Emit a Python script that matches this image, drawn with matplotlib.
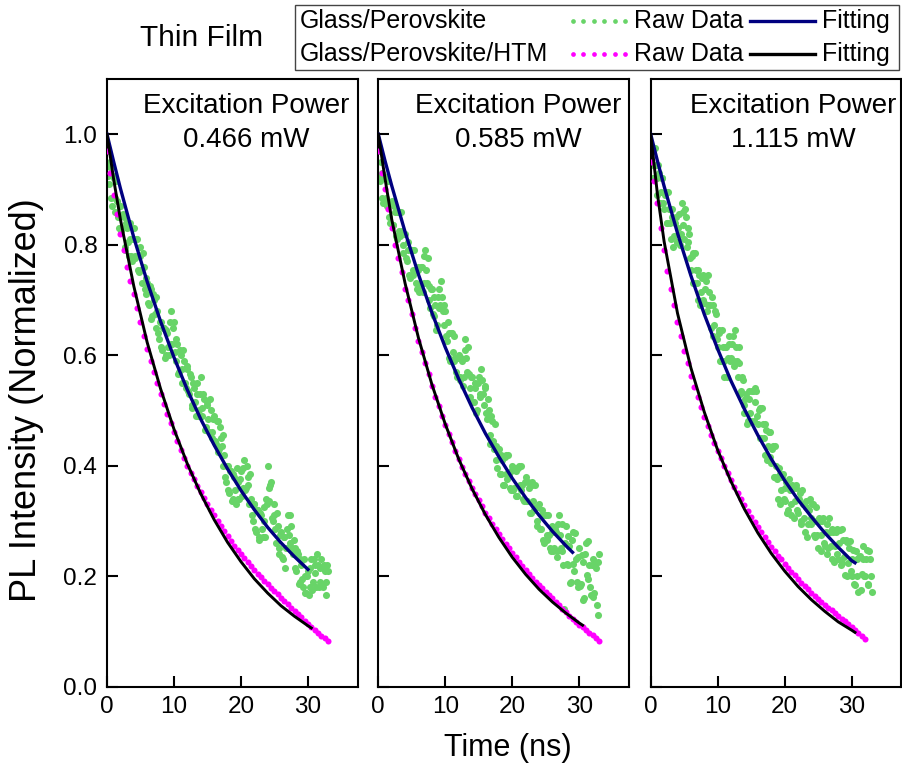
import numpy as np
import matplotlib.pyplot as plt
from matplotlib.lines import Line2D
from matplotlib.patches import Rectangle

plt.rcParams['font.family'] = ['Liberation Sans', 'DejaVu Sans']

powers = ['0.466 mW', '0.585 mW', '1.115 mW']

# raw data, Glass/Perovskite (green): values every 0.25 ns from t = 0 (a)
# and the in-between readings every 0.25 ns from t = 0.125 (b)
green_dt = 0.25
green_1a = [0.97, 0.91, 0.94, 0.87, 0.92, 0.86, 0.88, 0.83,
            0.87, 0.83, 0.85, 0.79, 0.83, 0.78, 0.81, 0.77,
            0.83, 0.78, 0.81, 0.75, 0.78, 0.73, 0.76, 0.71,
            0.73, 0.69, 0.72, 0.67, 0.70, 0.65, 0.68, 0.63,
            0.66, 0.61, 0.65, 0.60, 0.64, 0.60, 0.68, 0.62,
            0.66, 0.59, 0.62, 0.57, 0.60, 0.55, 0.59, 0.54,
            0.58, 0.53, 0.56, 0.51, 0.54, 0.49, 0.53, 0.50,
            0.56, 0.49, 0.52, 0.47, 0.51, 0.46, 0.50, 0.45,
            0.49, 0.44, 0.48, 0.43, 0.45, 0.40, 0.42, 0.37,
            0.40, 0.35, 0.39, 0.34, 0.38, 0.33, 0.37, 0.34,
            0.39, 0.36, 0.41, 0.36, 0.38, 0.33, 0.34, 0.30,
            0.33, 0.28, 0.32, 0.27, 0.31, 0.27, 0.30, 0.34,
            0.40, 0.36, 0.37, 0.30, 0.31, 0.26, 0.29, 0.24,
            0.28, 0.23, 0.27, 0.25, 0.31, 0.26, 0.29, 0.24,
            0.25, 0.21, 0.24, 0.19, 0.22, 0.18, 0.20, 0.17,
            0.21, 0.18, 0.23, 0.19, 0.22, 0.18, 0.22, 0.19,
            0.23, 0.18, 0.21, 0.19, 0.21]
green_1b = [0.925, 0.95, 0.885, 0.925, 0.885, 0.915, 0.85, 0.87,
            0.825, 0.855, 0.795, 0.84, 0.805, 0.84, 0.78, 0.81,
            0.775, 0.81, 0.755, 0.795, 0.755, 0.785, 0.72, 0.74,
            0.695, 0.725, 0.665, 0.71, 0.675, 0.705, 0.64, 0.66,
            0.615, 0.65, 0.595, 0.645, 0.615, 0.66, 0.62, 0.65,
            0.605, 0.63, 0.565, 0.61, 0.575, 0.61, 0.55, 0.575,
            0.535, 0.565, 0.505, 0.55, 0.515, 0.55, 0.49, 0.53,
            0.505, 0.53, 0.465, 0.515, 0.485, 0.52, 0.46, 0.485,
            0.445, 0.48, 0.425, 0.47, 0.435, 0.455, 0.38, 0.40,
            0.355, 0.39, 0.335, 0.385, 0.355, 0.395, 0.34, 0.375,
            0.345, 0.395, 0.355, 0.40, 0.365, 0.385, 0.31, 0.33,
            0.285, 0.32, 0.265, 0.315, 0.285, 0.325, 0.27, 0.33,
            0.335, 0.365, 0.305, 0.33, 0.285, 0.315, 0.25, 0.275,
            0.235, 0.27, 0.215, 0.285, 0.275, 0.31, 0.25, 0.265,
            0.215, 0.245, 0.185, 0.23, 0.195, 0.23, 0.17, 0.20,
            0.165, 0.215, 0.175, 0.23, 0.205, 0.24, 0.18, 0.215,
            0.185, 0.22, 0.165, 0.22]
green_2a = [0.97, 0.915, 0.93, 0.875, 0.92, 0.87, 0.875, 0.84,
            0.88, 0.835, 0.86, 0.81, 0.86, 0.815, 0.825, 0.785,
            0.82, 0.77, 0.79, 0.74, 0.79, 0.745, 0.755, 0.72,
            0.76, 0.725, 0.76, 0.73, 0.79, 0.73, 0.725, 0.685,
            0.72, 0.67, 0.69, 0.655, 0.72, 0.69, 0.705, 0.655,
            0.68, 0.625, 0.64, 0.59, 0.64, 0.59, 0.595, 0.56,
            0.60, 0.56, 0.59, 0.56, 0.63, 0.57, 0.565, 0.525,
            0.56, 0.515, 0.54, 0.50, 0.56, 0.53, 0.555, 0.51,
            0.54, 0.485, 0.50, 0.44, 0.48, 0.43, 0.435, 0.395,
            0.43, 0.385, 0.41, 0.365, 0.42, 0.375, 0.385, 0.355,
            0.40, 0.36, 0.39, 0.345, 0.40, 0.355, 0.365, 0.335,
            0.38, 0.335, 0.36, 0.315, 0.37, 0.32, 0.325, 0.29,
            0.33, 0.285, 0.31, 0.26, 0.31, 0.265, 0.275, 0.245,
            0.29, 0.25, 0.28, 0.245, 0.31, 0.25, 0.245, 0.14,
            0.29, 0.22, 0.255, 0.19, 0.28, 0.21, 0.23, 0.18,
            0.25, 0.185, 0.225, 0.16, 0.26, 0.195, 0.22, 0.165,
            0.23, 0.17, 0.215, 0.13, 0.24]
green_2b = [0.925, 0.95, 0.885, 0.925, 0.885, 0.915, 0.85, 0.875,
            0.835, 0.87, 0.815, 0.86, 0.825, 0.86, 0.80, 0.82,
            0.775, 0.805, 0.745, 0.79, 0.755, 0.79, 0.73, 0.755,
            0.715, 0.76, 0.715, 0.78, 0.755, 0.775, 0.70, 0.72,
            0.675, 0.705, 0.645, 0.705, 0.685, 0.735, 0.68, 0.69,
            0.635, 0.66, 0.595, 0.64, 0.605, 0.635, 0.57, 0.595,
            0.555, 0.595, 0.545, 0.61, 0.595, 0.615, 0.54, 0.56,
            0.515, 0.55, 0.495, 0.55, 0.525, 0.575, 0.53, 0.545,
            0.495, 0.52, 0.455, 0.49, 0.445, 0.475, 0.41, 0.43,
            0.385, 0.42, 0.365, 0.415, 0.385, 0.42, 0.36, 0.39,
            0.355, 0.395, 0.345, 0.395, 0.365, 0.40, 0.34, 0.37,
            0.335, 0.37, 0.315, 0.365, 0.335, 0.365, 0.30, 0.325,
            0.285, 0.32, 0.265, 0.31, 0.275, 0.31, 0.25, 0.28,
            0.245, 0.285, 0.235, 0.295, 0.275, 0.295, 0.22, 0.26,
            0.222, 0.273, 0.187, 0.265, 0.222, 0.278, 0.19, 0.235,
            0.182, 0.238, 0.157, 0.24, 0.202, 0.263, 0.18, 0.22,
            0.162, 0.223, 0.147, 0.225]
green_3a = [0.945, 0.975, 0.92, 0.945, 0.89, 0.93, 0.895, 0.92,
            0.865, 0.895, 0.84, 0.865, 0.81, 0.85, 0.815, 0.85,
            0.805, 0.855, 0.82, 0.86, 0.81, 0.85, 0.805, 0.82,
            0.755, 0.785, 0.73, 0.755, 0.70, 0.745, 0.715, 0.745,
            0.695, 0.735, 0.69, 0.715, 0.65, 0.69, 0.655, 0.675,
            0.615, 0.645, 0.59, 0.615, 0.56, 0.615, 0.595, 0.635,
            0.595, 0.635, 0.59, 0.615, 0.56, 0.585, 0.535, 0.555,
            0.495, 0.53, 0.48, 0.52, 0.48, 0.535, 0.515, 0.535,
            0.475, 0.505, 0.45, 0.475, 0.42, 0.465, 0.435, 0.46,
            0.405, 0.435, 0.38, 0.40, 0.34, 0.385, 0.355, 0.385,
            0.335, 0.37, 0.32, 0.355, 0.31, 0.36, 0.335, 0.365,
            0.315, 0.35, 0.30, 0.33, 0.28, 0.325, 0.295, 0.34,
            0.305, 0.33, 0.27, 0.30, 0.25, 0.30, 0.275, 0.305,
            0.255, 0.295, 0.25, 0.28, 0.23, 0.28, 0.255, 0.285,
            0.23, 0.283, 0.224, 0.265, 0.201, 0.261, 0.223, 0.264,
            0.20, 0.248, 0.184, 0.23, 0.171, 0.236, 0.203, 0.254,
            0.20, 0.248, 0.184, 0.23, 0.171]
green_3b = [0.97, 0.92, 0.975, 0.92, 0.945, 0.875, 0.92, 0.875,
            0.89, 0.84, 0.895, 0.84, 0.865, 0.795, 0.84, 0.805,
            0.83, 0.80, 0.875, 0.835, 0.865, 0.795, 0.83, 0.775,
            0.78, 0.73, 0.785, 0.73, 0.755, 0.69, 0.74, 0.70,
            0.72, 0.68, 0.745, 0.69, 0.705, 0.635, 0.68, 0.63,
            0.64, 0.59, 0.645, 0.59, 0.615, 0.56, 0.62, 0.59,
            0.62, 0.58, 0.645, 0.59, 0.615, 0.53, 0.56, 0.51,
            0.52, 0.475, 0.535, 0.495, 0.535, 0.48, 0.54, 0.49,
            0.50, 0.45, 0.505, 0.45, 0.475, 0.41, 0.46, 0.415,
            0.43, 0.38, 0.435, 0.375, 0.395, 0.33, 0.38, 0.34,
            0.36, 0.315, 0.375, 0.33, 0.365, 0.305, 0.36, 0.32,
            0.34, 0.295, 0.355, 0.305, 0.335, 0.27, 0.32, 0.295,
            0.33, 0.275, 0.325, 0.275, 0.305, 0.245, 0.30, 0.26,
            0.28, 0.24, 0.305, 0.255, 0.285, 0.225, 0.28, 0.24,
            0.26, 0.22, 0.285, 0.235, 0.265, 0.20, 0.25, 0.21,
            0.23, 0.185, 0.245, 0.20, 0.235, 0.175, 0.23, 0.20,
            0.23, 0.185, 0.245, 0.20]

# raw data, Glass/Perovskite/HTM (magenta), one value every 0.5 ns from t = 0
htm_dt = 0.5
htm_1 = [0.97, 0.93, 0.89, 0.855, 0.82, 0.79, 0.76, 0.735, 0.71, 0.685,
         0.66, 0.635, 0.612, 0.59, 0.57, 0.55, 0.53, 0.511, 0.494, 0.477,
         0.46, 0.444, 0.428, 0.414, 0.40, 0.387, 0.375, 0.363, 0.352, 0.341,
         0.33, 0.32, 0.31, 0.30, 0.29, 0.281, 0.272, 0.263, 0.255, 0.247,
         0.24, 0.232, 0.225, 0.218, 0.211, 0.204, 0.198, 0.191, 0.185, 0.179,
         0.173, 0.167, 0.161, 0.155, 0.149, 0.143, 0.137, 0.131, 0.125, 0.119,
         0.113, 0.108, 0.102, 0.097, 0.092, 0.087, 0.083]
htm_2 = [0.97, 0.93, 0.90, 0.865, 0.83, 0.80, 0.775, 0.75, 0.72, 0.70,
         0.675, 0.65, 0.625, 0.605, 0.585, 0.565, 0.545, 0.525, 0.507, 0.49,
         0.473, 0.457, 0.442, 0.427, 0.412, 0.398, 0.385, 0.372, 0.36, 0.348,
         0.337, 0.326, 0.315, 0.305, 0.295, 0.285, 0.276, 0.267, 0.258, 0.25,
         0.242, 0.234, 0.226, 0.218, 0.211, 0.204, 0.197, 0.19, 0.184, 0.178,
         0.172, 0.166, 0.16, 0.153, 0.147, 0.14, 0.135, 0.128, 0.123, 0.117,
         0.112, 0.107, 0.102, 0.097, 0.093, 0.088, 0.083]
htm_3 = [0.95, 0.915, 0.875, 0.83, 0.79, 0.752, 0.72, 0.69, 0.66, 0.634,
         0.608, 0.585, 0.563, 0.543, 0.524, 0.506, 0.488, 0.472, 0.456, 0.441,
         0.427, 0.413, 0.399, 0.386, 0.374, 0.362, 0.35, 0.339, 0.328, 0.317,
         0.307, 0.297, 0.288, 0.279, 0.27, 0.261, 0.253, 0.245, 0.237, 0.23,
         0.222, 0.215, 0.208, 0.201, 0.195, 0.188, 0.182, 0.176, 0.17, 0.164,
         0.159, 0.153, 0.148, 0.143, 0.138, 0.133, 0.128, 0.123, 0.118, 0.113,
         0.108, 0.103, 0.097, 0.092, 0.086]

# fitted curves
fit_t1 = [0, 1, 2, 4, 6, 8, 10, 12, 14, 16, 18, 20, 22, 24, 26, 28, 30]
blue_1 = [1.0, 0.95, 0.902, 0.813, 0.733, 0.661, 0.596, 0.537, 0.484,
          0.437, 0.394, 0.355, 0.320, 0.288, 0.260, 0.235, 0.212]
black_t1 = [0, 1, 2, 4, 6, 8, 10, 12, 14, 16, 18, 20, 22, 24, 26, 28, 30, 30.5]
black_1 = [1.0, 0.918, 0.846, 0.725, 0.623, 0.539, 0.466, 0.403, 0.349,
           0.302, 0.261, 0.226, 0.195, 0.169, 0.146, 0.127, 0.110, 0.106]

fit_t2 = [0, 1, 2, 4, 6, 8, 10, 12, 14, 16, 18, 20, 22, 24, 26, 28, 29]
blue_2 = [1.0, 0.952, 0.907, 0.823, 0.746, 0.677, 0.614, 0.557, 0.505,
          0.458, 0.416, 0.377, 0.342, 0.310, 0.281, 0.255, 0.243]
black_t2 = [0, 1, 2, 4, 6, 8, 10, 12, 14, 16, 18, 20, 22, 24, 26, 28, 30, 30.5]
black_2 = [1.0, 0.92, 0.846, 0.73, 0.631, 0.547, 0.475, 0.412, 0.358,
           0.311, 0.270, 0.234, 0.203, 0.176, 0.153, 0.133, 0.115, 0.111]

fit_t3 = [0, 1, 2, 4, 6, 8, 10, 12, 14, 16, 18, 20, 22, 24, 26, 28, 30, 30.5]
blue_3 = [1.0, 0.952, 0.906, 0.821, 0.744, 0.674, 0.611, 0.553, 0.502,
          0.455, 0.412, 0.373, 0.338, 0.307, 0.278, 0.252, 0.228, 0.224]
black_t3 = [0, 1, 2, 4, 6, 8, 10, 12, 14, 16, 18, 20, 22, 24, 26, 28, 30, 30.5]
black_3 = [1.0, 0.892, 0.806, 0.676, 0.577, 0.497, 0.428, 0.371, 0.321,
           0.278, 0.241, 0.209, 0.181, 0.157, 0.136, 0.117, 0.102, 0.098]

greens = [(green_1a, green_1b), (green_2a, green_2b), (green_3a, green_3b)]
htms = [htm_1, htm_2, htm_3]
blues = [(fit_t1, blue_1), (fit_t2, blue_2), (fit_t3, blue_3)]
blacks = [(black_t1, black_1), (black_t2, black_2), (black_t3, black_3)]

c_green = '#68d468'
c_mag = '#ff00ff'
c_blue = '#000080'

W, H = 902, 771
fig = plt.figure(figsize=(W / 100, H / 100), dpi=100)

lefts = [107, 378.3, 650.7]
text_x = [0.555, 0.56, 0.57]
for i in range(3):
    ax = fig.add_axes([lefts[i] / W, (H - 686.5) / H, 250.5 / W, 607.5 / H])
    ga = np.array(greens[i][0])
    gb = np.array(greens[i][1])
    m = np.array(htms[i])
    ax.scatter(np.arange(len(ga)) * green_dt, ga, s=26, color=c_green,
               linewidths=0, zorder=2)
    ax.scatter(np.arange(len(gb)) * green_dt + green_dt / 2, gb, s=26,
               color=c_green, linewidths=0, zorder=2)
    ax.scatter(np.arange(len(m)) * htm_dt, m, s=19, color=c_mag,
               linewidths=0, zorder=3)
    ax.plot(blues[i][0], blues[i][1], color=c_blue, lw=2.4, zorder=4)
    ax.plot(blacks[i][0], blacks[i][1], color='black', lw=2.1, zorder=5)

    ax.set_xlim(0, 37.4)
    ax.set_ylim(0, 1.1)
    ax.set_xticks([0, 10, 20, 30])
    ax.set_yticks([0.0, 0.2, 0.4, 0.6, 0.8, 1.0])
    ax.set_yticklabels(['0.0', '0.2', '0.4', '0.6', '0.8', '1.0'])
    ax.tick_params(direction='in', length=8, width=1.5, labelsize=17.5,
                   top=False, right=False, pad=7)
    if i > 0:
        ax.tick_params(labelleft=False)
    for sp in ax.spines.values():
        sp.set_linewidth(1.5)

    ax.text(text_x[i], 0.955, 'Excitation Power', transform=ax.transAxes,
            ha='center', va='center', fontsize=20)
    ax.text(text_x[i], 0.899, powers[i], transform=ax.transAxes,
            ha='center', va='center', fontsize=20)

fig.text(27 / W, (H - 400) / H, 'PL Intensity (Normalized)', rotation=90,
         ha='center', va='center', fontsize=26)
fig.text(508 / W, (H - 748) / H, 'Time (ns)', ha='center', va='center',
         fontsize=22)
fig.text(202 / W, (H - 38) / H, 'Thin Film', ha='center', va='center',
         fontsize=21.5)

# legend box drawn by hand
fig.patches.append(Rectangle((294.7 / W, (H - 70) / H), 604.3 / W, 65 / H,
                             transform=fig.transFigure, fill=False,
                             edgecolor='#444444', linewidth=1.0))
rows = [(21, 'Glass/Perovskite', c_green, c_blue),
        (54, 'Glass/Perovskite/HTM', c_mag, 'black')]
for ypx, name, dot_c, line_c in rows:
    yf = (H - ypx) / H
    fig.text(299.8 / W, yf, name, ha='left', va='center', fontsize=18)
    fig.lines.append(Line2D(np.linspace(573, 625, 6) / W, [yf] * 6,
                            transform=fig.transFigure, ls='none', marker='o',
                            ms=3.4, mec='none', mfc=dot_c))
    fig.text(634 / W, yf, 'Raw Data', ha='left', va='center', fontsize=18)
    fig.lines.append(Line2D([750 / W, 815 / W], [yf, yf],
                            transform=fig.transFigure, color=line_c, lw=2.4))
    fig.text(822 / W, yf, 'Fitting', ha='left', va='center', fontsize=18)

fig.savefig('out.png', dpi=100)
